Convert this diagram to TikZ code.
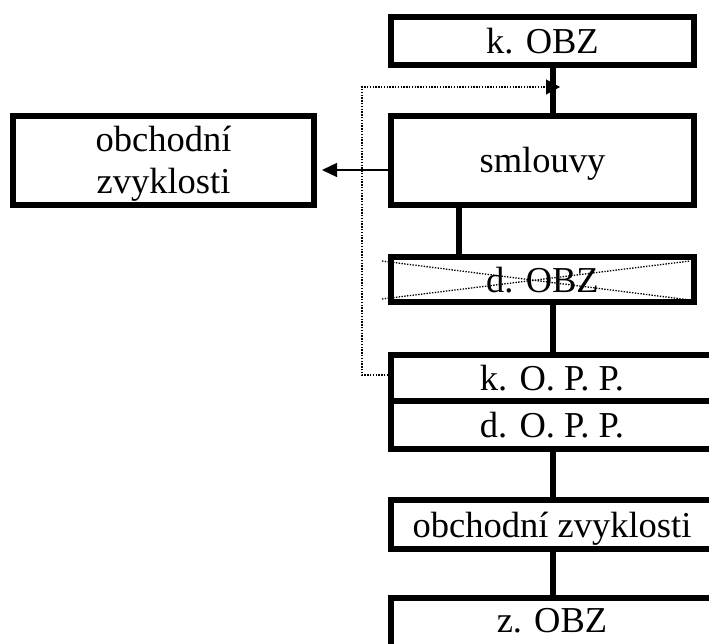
\documentclass[tikz,border=0pt]{standalone}
\usepackage{fontspec}
\setmainfont{Liberation Serif}
\usetikzlibrary{arrows.meta}
\begin{document}
\begin{tikzpicture}[x=1bp,y=-1bp,
  box/.style={draw, line width=6bp, inner sep=0pt, outer sep=0pt,
    font=\fontsize{36.5bp}{42bp}\selectfont, text height=25bp, text depth=0bp},
  link/.style={line width=6bp},
  thinarrow/.style={line width=1.3bp, -{Triangle[length=15bp,width=14bp]}},
  dotline/.style={line width=1.3bp, dash pattern=on 1.4bp off 1.4bp},
  dotarrow/.style={dotline, -{Triangle[length=14bp,width=15bp]}}]
\useasboundingbox (0,0) rectangle (709,644);
\clip (0,0) rectangle (709,644);

% boxes
\node[box, minimum width=303bp, minimum height=48bp] (kobz) at (542.5,41) {k. OBZ};
\node[box, minimum width=303bp, minimum height=89bp] (sml) at (542.5,160.5) {smlouvy};
\node[box, minimum width=301bp, minimum height=89bp, text height=, text depth=, align=center] (lbox) at (163.5,160.5) {\rule{0pt}{31bp}obchodní\\zvyklosti};
\node[box, minimum width=303bp, minimum height=45bp] (dobz) at (542.5,279.5) {d. OBZ};
\node[box, minimum width=322bp, minimum height=46bp] (kopp) at (552,378) {k. O. P. P.};
\node[box, minimum width=322bp, minimum height=48bp] (dopp) at (552,425) {d. O. P. P.};
\node[box, minimum width=322bp, minimum height=49bp] (oz) at (552,524.5) {obchodní zvyklosti};
\node[box, minimum width=322bp, minimum height=60bp, text depth=17bp] (zobz) at (552,628) {z. OBZ};

% crossing dotted lines over d. OBZ
\draw[dotline] (382,261) -- (690,300);
\draw[dotline] (382,299) -- (690,261);

% vertical connectors
\coordinate (cx) at (553,0);
\coordinate (sx) at (459,0);
\draw[link] (kobz.south -| cx) -- (sml.north -| cx);
\draw[link] (sml.south -| sx) -- (dobz.north -| sx);
\draw[link] (dobz.south -| cx) -- (kopp.north -| cx);
\draw[link] (dopp.south -| cx) -- (oz.north -| cx);
\draw[link] (oz.south -| cx) -- (zobz.north -| cx);

% arrow to left box
\coordinate (ay) at (0,170);
\draw[thinarrow, shorten >=8bp] (sml.west |- ay) -- (lbox.east |- ay);

% dotted feedback arrow
\coordinate (dc1) at (362,375);
\coordinate (dc2) at (362,87);
\coordinate (dtip) at (560,87);
\draw[dotarrow] (kopp.west |- dc1) -- (dc1) -- (dc2) -- (dtip);
\end{tikzpicture}
\end{document}
